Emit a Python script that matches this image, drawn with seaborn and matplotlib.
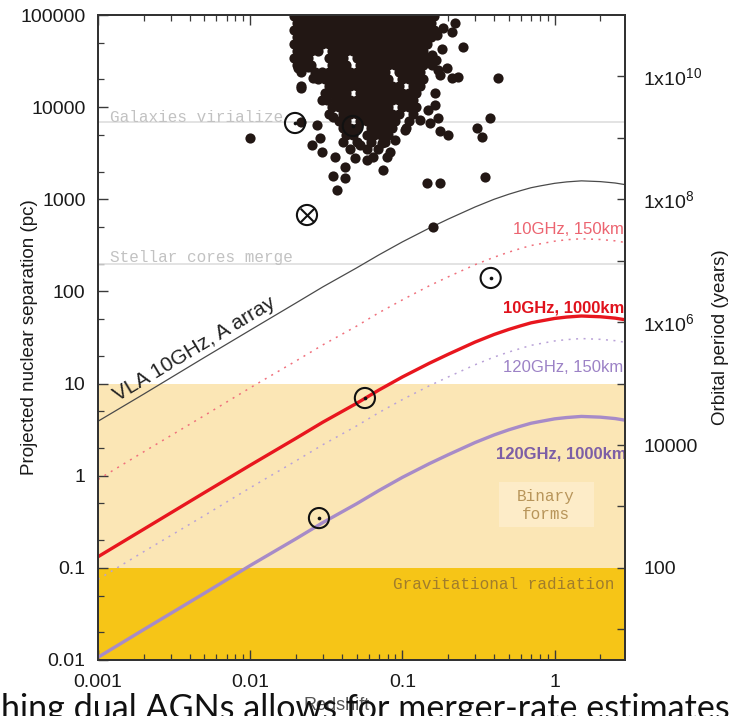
import matplotlib
matplotlib.use("Agg")
import matplotlib.pyplot as plt
from matplotlib.patches import Rectangle
from matplotlib.ticker import LogLocator, NullLocator, NullFormatter
import pandas as pd
import seaborn as sns

# ---------------------------------------------------------------------------
# Resolution curves: projected separation (pc) resolvable versus redshift
# ---------------------------------------------------------------------------
z_grid = [0.001, 0.002, 0.005, 0.01, 0.02, 0.03, 0.05, 0.07, 0.1, 0.15, 0.2, 0.3, 0.4,
          0.5, 0.6, 0.7, 0.8, 1.0, 1.2, 1.5, 2.0, 2.5, 3.0]
vla_a_10ghz = [3.9, 7.7, 19.2, 38, 75, 112, 180, 249, 345, 486, 610, 825, 1000,
               1135, 1243, 1335, 1395, 1490, 1544, 1585, 1555, 1502, 1430]
ghz10_1000km = [0.132, 0.263, 0.655, 1.30, 2.55, 3.81, 6.1, 8.5, 11.8, 16.6, 20.8, 28.2, 34.1,
                38.7, 42.4, 45.6, 47.6, 50.9, 52.7, 54.1, 53.1, 51.3, 48.8]
ghz10_150km = [0.91, 1.82, 4.5, 9.0, 17.6, 26.3, 42, 58.7, 81, 115, 144, 195, 235,
               267, 293, 315, 328, 351, 364, 373, 366, 354, 337]
ghz120_1000km = [0.0107, 0.0214, 0.053, 0.106, 0.207, 0.310, 0.496, 0.69, 0.96, 1.35, 1.69,
                 2.29, 2.77, 3.15, 3.45, 3.71, 3.87, 4.14, 4.28, 4.40, 4.32, 4.17, 3.97]
ghz120_150km = [0.075, 0.150, 0.37, 0.74, 1.45, 2.17, 3.47, 4.84, 6.7, 9.45, 11.8, 16.0, 19.4,
                22.0, 24.1, 26.0, 27.1, 29.0, 30.0, 30.8, 30.2, 29.2, 27.8]

# Merger-stage thresholds (pc)
virialize_sep = 6900
cores_merge_sep = 200
binary_band = (0.1, 10)
gw_band = (0.01, 0.1)

# Dual-AGN pair catalogue: dense core, listed row by row (separation, redshifts)
core_row_sep = [97500, 81800, 68700, 57700, 48400, 40600, 34100, 28700, 24000,
                20200, 16900, 14200, 11900, 10000, 8430, 7080, 5940, 4990, 4200, 3530]
core_row_z = [
    [0.0194, 0.0215, 0.0239, 0.0266, 0.0296, 0.0329, 0.0366, 0.0407, 0.0452, 0.0502, 0.0559,
     0.0621, 0.0690, 0.0767, 0.0853, 0.0948, 0.105, 0.117, 0.130, 0.145, 0.161],
    [0.0204, 0.0227, 0.0252, 0.0280, 0.0312, 0.0347, 0.0386, 0.0429, 0.0476, 0.0530, 0.0589,
     0.0655, 0.0728, 0.0809, 0.0899, 0.100, 0.111, 0.123, 0.137, 0.153],
    [0.0194, 0.0215, 0.0239, 0.0266, 0.0296, 0.0329, 0.0366, 0.0407, 0.0452, 0.0502, 0.0559,
     0.0621, 0.0690, 0.0767, 0.0853, 0.0948, 0.105, 0.117, 0.130, 0.145, 0.161],
    [0.0204, 0.0227, 0.0252, 0.0280, 0.0312, 0.0347, 0.0386, 0.0429, 0.0476, 0.0530, 0.0589,
     0.0655, 0.0728, 0.0809, 0.0899, 0.100, 0.111, 0.123, 0.137, 0.153],
    [0.0194, 0.0215, 0.0239, 0.0266, 0.0296, 0.0329, 0.0366, 0.0407, 0.0452, 0.0502, 0.0559,
     0.0621, 0.0690, 0.0767, 0.0853, 0.0948, 0.105, 0.117, 0.130, 0.145],
    [0.0204, 0.0227, 0.0252, 0.0280, 0.0347, 0.0386, 0.0429, 0.0476, 0.0530, 0.0589,
     0.0655, 0.0728, 0.0809, 0.0899, 0.100, 0.111, 0.123, 0.137],
    [0.0194, 0.0215, 0.0239, 0.0329, 0.0366, 0.0407, 0.0502, 0.0559, 0.0621, 0.0690,
     0.0767, 0.0853, 0.0948, 0.105, 0.117, 0.130, 0.145],
    [0.0204, 0.0227, 0.0252, 0.0347, 0.0386, 0.0429, 0.0530, 0.0589, 0.0655, 0.0728,
     0.0809, 0.0899, 0.100, 0.111, 0.123, 0.137],
    [0.0215, 0.0266, 0.0296, 0.0329, 0.0366, 0.0407, 0.0452, 0.0502, 0.0559, 0.0621,
     0.0690, 0.0767, 0.0948, 0.105, 0.117, 0.130],
    [0.0280, 0.0312, 0.0347, 0.0386, 0.0429, 0.0476, 0.0530, 0.0589, 0.0655, 0.0728,
     0.0809, 0.100, 0.111, 0.123, 0.137],
    [0.0215, 0.0329, 0.0366, 0.0407, 0.0452, 0.0502, 0.0559, 0.0621, 0.0690, 0.0767,
     0.0853, 0.0948, 0.117, 0.130],
    [0.0312, 0.0347, 0.0386, 0.0429, 0.0530, 0.0589, 0.0655, 0.0728, 0.0809, 0.0899,
     0.100, 0.111, 0.123],
    [0.0296, 0.0366, 0.0407, 0.0452, 0.0502, 0.0559, 0.0621, 0.0690, 0.0767, 0.0853,
     0.0948, 0.105, 0.117],
    [0.0347, 0.0386, 0.0429, 0.0476, 0.0530, 0.0589, 0.0655, 0.0728, 0.0809, 0.100,
     0.111, 0.123],
    [0.0329, 0.0407, 0.0452, 0.0502, 0.0559, 0.0621, 0.0690, 0.0767, 0.0853, 0.0948, 0.117],
    [0.0386, 0.0429, 0.0530, 0.0589, 0.0655, 0.0728, 0.0809, 0.0899, 0.111],
    [0.0407, 0.0452, 0.0502, 0.0621, 0.0690, 0.0767, 0.0853, 0.105],
    [0.0429, 0.0476, 0.0589, 0.0655, 0.0728, 0.0809],
    [0.0407, 0.0502, 0.0621, 0.0767],
    [0.0452, 0.0589, 0.0690],
]

# Outlying pairs around the core
field_z = [0.0100, 0.0274, 0.0287, 0.0254, 0.0296, 0.0360, 0.0419, 0.0349, 0.0419, 0.0371,
           0.0583, 0.0640, 0.0743, 0.0826, 0.0349, 0.0319, 0.0400, 0.0215, 0.0203, 0.0206,
           0.0239, 0.0258, 0.1445, 0.176, 0.348, 0.375, 0.308, 0.332, 0.176, 0.199,
           0.423, 0.249, 0.182, 0.196, 0.176, 0.211, 0.231, 0.221, 0.211, 0.184,
           0.168, 0.156, 0.156, 0.163, 0.163, 0.171, 0.151, 0.158, 0.0486, 0.0525,
           0.0891, 0.104, 0.130, 0.147, 0.0791, 0.166, 0.171, 0.0733, 0.0215]
field_sep = [4620, 6400, 4620, 3880, 3260, 2880, 2240, 1790, 1700, 1260,
             2670, 2880, 2080, 3260, 7810, 11960, 11370, 16100, 35000, 26600,
             27300, 20700, 1500, 1500, 1750, 7620, 5940, 4740, 5510, 4990,
             20700, 45000, 42800, 26600, 22300, 20700, 21200, 81800, 65400, 72300,
             60700, 36800, 28700, 14200, 10500, 7620, 6730, 500, 2800, 3880,
             4400, 5650, 7250, 9310, 2880, 32500, 25300, 4080, 6900]

# Individually imaged systems
ring_z = [0.0197, 0.0472, 0.380, 0.0567, 0.0283]
ring_sep = [6730, 6240, 140, 6.97, 0.347]
cross_z = [0.0236]
cross_sep = [675]

x_ticks = [0.001, 0.01, 0.1, 1]
x_tick_labels = ["0.001", "0.01", "0.1", "1"]
y_ticks = [0.01, 0.1, 1, 10, 100, 1000, 10000, 100000]
y_tick_labels = ["0.01", "0.1", "1", "10", "100", "1000", "10000", "100000"]
period_ticks = [1e1, 1e2, 1e3, 1e4, 1e5, 1e6, 1e7, 1e8, 1e9, 1e10]
period_tick_labels = ["", "100", "", "10000", "", "1x10$^6$", "", "1x10$^8$", "", "1x10$^{10}$"]

# ---------------------------------------------------------------------------
sns.set_theme(style="ticks")
plt.rcParams["font.family"] = ["Liberation Sans", "DejaVu Sans"]
plt.rcParams["mathtext.fontset"] = "custom"
plt.rcParams["mathtext.rm"] = "Liberation Sans"
plt.rcParams["mathtext.it"] = "Liberation Sans:italic"
plt.rcParams["mathtext.bf"] = "Liberation Sans:bold"

fig = plt.figure(figsize=(7.32, 7.16), dpi=100, facecolor="white")
ax = fig.add_axes([98 / 732, 1 - 660 / 716, 527 / 732, 645 / 716])
ax.set_facecolor("white")
ax.set_xscale("log")
ax.set_yscale("log")

# Evolution stages
ax.axhspan(*gw_band, color="#f6c517", lw=0, zorder=0)
ax.axhspan(*binary_band, color="#fbe6b5", lw=0, zorder=0)
ax.add_patch(Rectangle((0.43, 0.277), 1.38, 0.578, facecolor="#fdecc8",
                       edgecolor="none", zorder=0.5))
ax.axhline(virialize_sep, color="#dedede", lw=1.2, zorder=1)
ax.axhline(cores_merge_sep, color="#dedede", lw=1.2, zorder=1)

curves = pd.DataFrame({
    "z": z_grid,
    "vla": vla_a_10ghz,
    "r1000": ghz10_1000km,
    "r150": ghz10_150km,
    "p1000": ghz120_1000km,
    "p150": ghz120_150km,
})
sns.lineplot(data=curves, x="z", y="vla", ax=ax, color="#4a4a4a", linewidth=0.9, zorder=3)
sns.lineplot(data=curves, x="z", y="r150", ax=ax, color="#f0707c", linewidth=1.1,
             linestyle=(0, (1.3, 3.6)), zorder=3)
sns.lineplot(data=curves, x="z", y="p150", ax=ax, color="#b9a2d8", linewidth=1.1,
             linestyle=(0, (1.3, 3.6)), zorder=3)
sns.lineplot(data=curves, x="z", y="r1000", ax=ax, color="#e8161e", linewidth=2.4, zorder=3)
sns.lineplot(data=curves, x="z", y="p1000", ax=ax, color="#a78bc8", linewidth=2.4, zorder=3)

# Pair catalogue
cloud_z = [z for row in core_row_z for z in row] + field_z
cloud_sep = [s for s, row in zip(core_row_sep, core_row_z) for _ in row] + field_sep
sns.scatterplot(x=cloud_z, y=cloud_sep, ax=ax, color="#221714", s=54, linewidth=0,
                zorder=4, legend=False)

# Imaged systems
sns.scatterplot(x=ring_z + cross_z, y=ring_sep + cross_sep, ax=ax, color="#111111",
                marker="o", s=210, facecolor="none", edgecolor="#111111", linewidth=1.5,
                zorder=6, legend=False)
sns.scatterplot(x=ring_z, y=ring_sep, ax=ax, color="#111111", s=7, linewidth=0,
                zorder=6, legend=False)
sns.scatterplot(x=cross_z, y=cross_sep, ax=ax, color="#111111", marker="x", s=95,
                linewidth=1.5, zorder=6, legend=False)

# Axes ranges and ticks
ax.set_xlim(0.001, 2.9)
ax.set_ylim(0.01, 1e5)
ax.set_xticks(x_ticks, x_tick_labels)
ax.set_yticks(y_ticks, y_tick_labels)
ax.xaxis.set_minor_locator(LogLocator(base=10, subs=[2, 3, 4, 5, 6, 7, 8, 9]))
ax.xaxis.set_minor_formatter(NullFormatter())
ax.yaxis.set_minor_locator(LogLocator(base=10, subs=[2, 5]))
ax.yaxis.set_minor_formatter(NullFormatter())
ax.tick_params(axis="both", which="both", direction="in", top=True, right=False,
               color="#3a3a3a", labelcolor="#1a1a1a", labelsize=14)
ax.tick_params(axis="both", which="major", length=7, width=1.0)
ax.tick_params(axis="both", which="minor", length=4, width=0.9)
ax.tick_params(axis="x", which="major", pad=10)
ax.tick_params(axis="y", which="major", pad=9)

for sp in ax.spines.values():
    sp.set_linewidth(1.4)
    sp.set_color("#333333")

ax.set_ylabel("Projected nuclear separation (pc)", fontsize=13.5, color="#1a1a1a")
ax.yaxis.set_label_coords(-0.113, 0.5)
ax.set_xlabel("Redshift", fontsize=13, color="#555555")
ax.xaxis.set_label_coords(0.452, -0.058)

# Orbital period axis
ax2 = ax.twinx()
ax2.set_yscale("log")
ax2.set_ylim(10 ** 0.5, 1e11)
ax2.set_yticks(period_ticks, period_tick_labels)
ax2.yaxis.set_minor_locator(NullLocator())
ax2.tick_params(axis="y", which="major", direction="in", length=6, width=1.0,
                color="#3a3a3a", labelcolor="#1a1a1a", labelsize=14, pad=13)
ax2.set_ylabel("Orbital period (years)", fontsize=13.5, color="#1a1a1a")
ax2.yaxis.set_label_coords(1.166, 0.5)
for sp in ax2.spines.values():
    sp.set_linewidth(1.4)
    sp.set_color("#333333")

# Annotations
mono = "Liberation Mono"
ax.text(0.0012, 7800, "Galaxies virialize", family=mono, fontsize=11.5, color="#c2c2c2",
        ha="left", va="center", zorder=2)
ax.text(0.0012, 231, "Stellar cores merge", family=mono, fontsize=11.5, color="#c2c2c2",
        ha="left", va="center", zorder=2)
ax.text(0.875, 0.48, "Binary\nforms", family=mono, fontsize=11.5, color="#b8955a",
        ha="center", va="center", linespacing=1.25, zorder=2)
ax.text(0.463, 0.0668, "Gravitational radiation", family=mono, fontsize=11.5,
        color="#a07d2c", ha="center", va="center", zorder=2)

ax.text(0.00135, 6.3, "VLA 10GHz, A array", rotation=31, rotation_mode="anchor",
        ha="left", va="baseline", fontsize=15, color="#222222", zorder=5)
ax.text(2.84, 465, "10GHz, 150km", ha="right", va="center", fontsize=12,
        color="#ec6470", zorder=5)
ax.text(2.86, 66, "10GHz, 1000km", ha="right", va="center", fontsize=12,
        fontweight="bold", color="#e0121c", zorder=5)
ax.text(2.84, 14.8, "120GHz, 150km", ha="right", va="center", fontsize=12,
        color="#9c82c6", zorder=5)
ax.text(2.97, 1.72, "120GHz, 1000km", ha="right", va="center", fontsize=12,
        fontweight="bold", color="#7c5ea6", zorder=5)

# Slide caption running along the bottom edge
fig.text(1 / 732, -0.004, "hing dual AGNs allows for merger-rate estimates",
         family="Lato", fontsize=24.6, color="#111111", ha="left", va="baseline", zorder=10)

fig.savefig("out.png", dpi=100)
